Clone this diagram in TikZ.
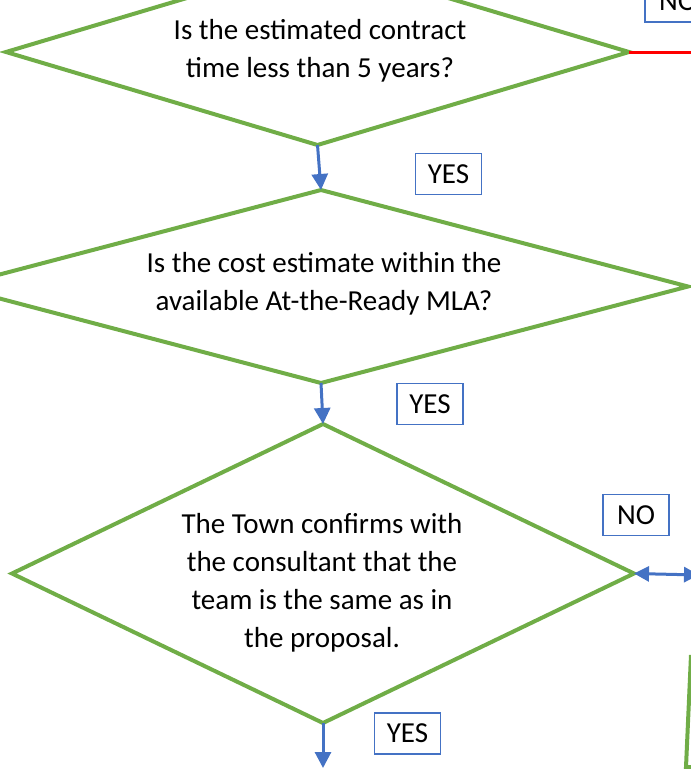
\documentclass[tikz,border=0pt]{standalone}
\usepackage{fontspec}
\setmainfont{Carlito}
\usetikzlibrary{shapes.geometric,arrows.meta}
\definecolor{offgreen}{HTML}{70AD47}
\definecolor{offblue}{HTML}{4472C4}

\begin{document}
\begin{tikzpicture}[x=1pt,y=-1pt,
	decision/.style={diamond,draw=offgreen,line width=4pt,inner sep=0pt,outer sep=0pt},
	question/.style={align=center,font=\fontsize{29}{38}\selectfont},
	answer/.style={draw=offblue,line width=1.5pt,fill=white,minimum width=66pt,minimum height=41pt,inner sep=0pt,font=\fontsize{29}{35}\selectfont},
	flow/.style={offblue,line width=3pt,-{Triangle[width=16pt,length=16pt]}}]
		\clip (0,0) rectangle (691,769);
		%\fill[lightgray] (0,0) rectangle (691,769);
		\node[decision,minimum width=623pt,minimum height=186pt] (q1) at (317.5,52) {};
		\node[decision,minimum width=734pt,minimum height=193pt] (q2) at (321,286.5) {};
		\node[decision,minimum width=622pt,minimum height=299pt] (q3) at (323,573.5) {};
		
		\node[question] (t1) at (320,51) {Is the estimated contract\\time less than 5 years?};
		\node[question] (t2) at (324,283.5) {Is the cost estimate within the\\available At-the-Ready MLA?};
		\node[question] (t3) at (322,582.5) {The Town confirms with\\the consultant that the\\team is the same as in\\the proposal.};
		
		\node[answer] (y1) at (448.5,174) {YES};
		\node[answer] (y2) at (430,404) {YES};
		\node[answer] (y3) at (407.5,733.5) {YES};
		\node[answer] (n1) at (636,515) {NO};
		\node[answer] (n0) at (678,1.5) {NO};
		
		\coordinate (out3) at (323,768);
		\coordinate (no1) at (700,52);
		\coordinate (no3) at (699,575);
		\draw[flow] (q1.south) -- (q2.north);
		\draw[flow] (q2.south) -- (q3.north);
		\draw[flow] (q3.south) -- (out3);
		\draw[red, line width=3pt] (q1.east) -- (no1);
		\draw[flow,{Triangle[width=15pt,length=15pt]}-{Triangle[width=15pt,length=15pt]}] (q3.east) -- (no3);
		
		% edge of the next box on the right
		\draw[offgreen, line width=4pt] (691,655) -- (686,767) -- (700,767);
	\end{tikzpicture}
\end{document}
